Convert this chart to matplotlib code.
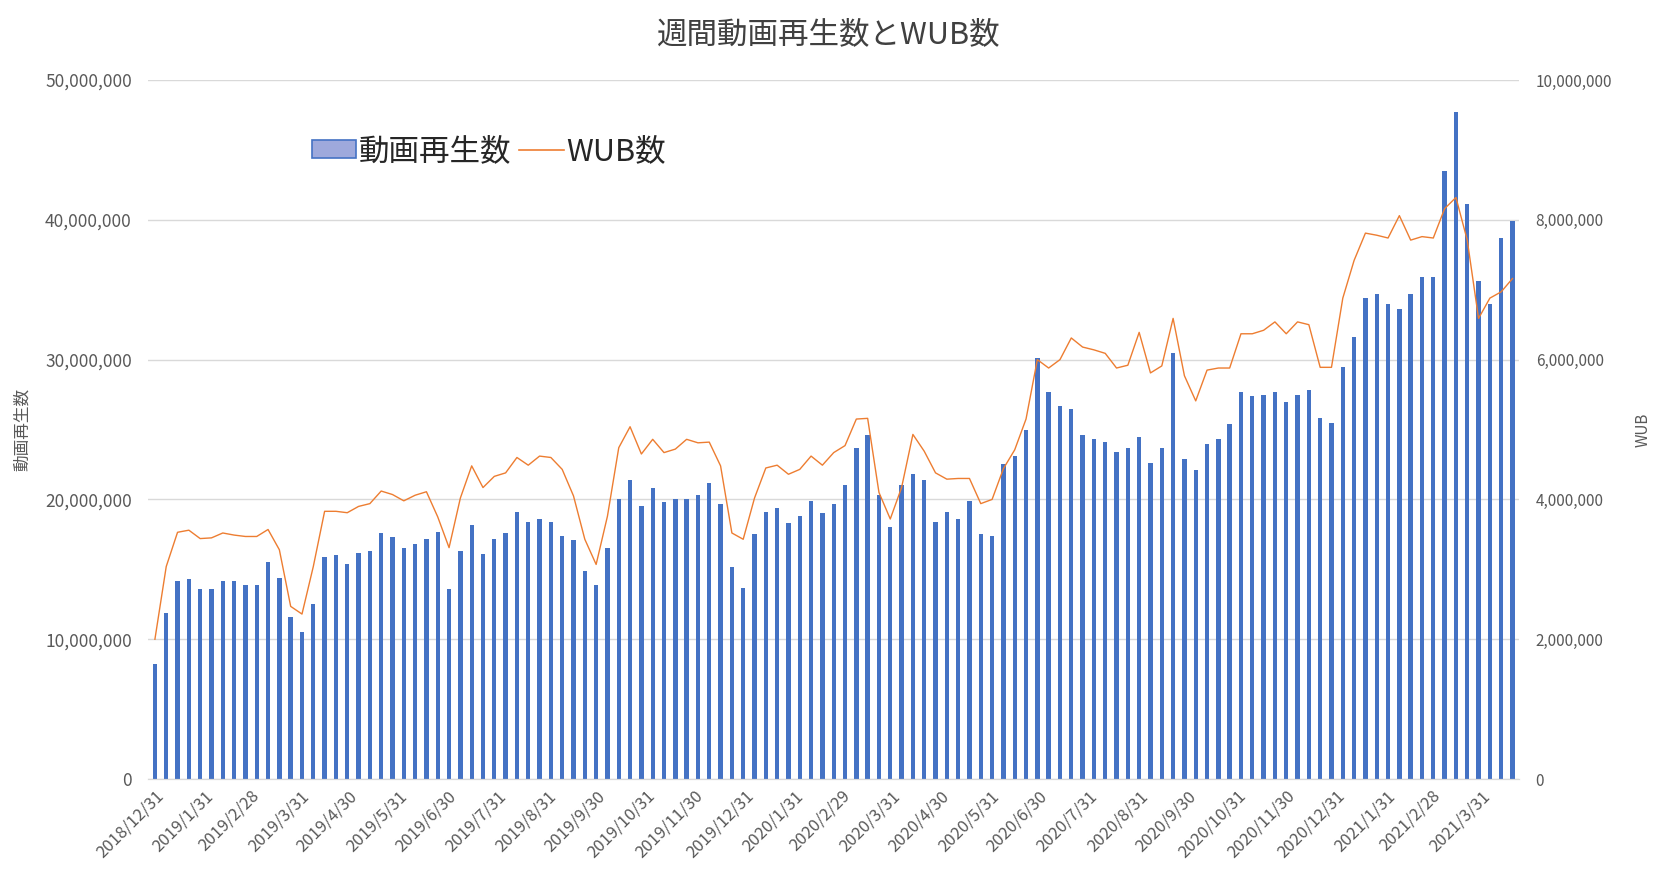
import matplotlib
matplotlib.use('Agg')
import matplotlib.pyplot as plt
import matplotlib.transforms as mtransforms
from matplotlib.patches import Patch
from matplotlib.lines import Line2D
import numpy as np
import pandas as pd

plt.rcParams['font.family'] = ['Noto Sans CJK JP', 'DejaVu Sans']

# 週次データ (2018/12/31 から毎週月曜)
weeks = pd.date_range('2018-12-31', periods=121, freq='7D')

# 動画再生数 (百万)
plays_m = [
    8.2, 11.9, 14.2, 14.3, 13.6, 13.6, 14.2, 14.2, 13.9, 13.9,
    15.5, 14.4, 11.6, 10.5, 12.5, 15.9, 16.0, 15.4, 16.2, 16.3,
    17.6, 17.3, 16.5, 16.8, 17.2, 17.7, 13.6, 16.3, 18.2, 16.1,
    17.2, 17.6, 19.1, 18.4, 18.6, 18.4, 17.4, 17.1, 14.9, 13.9,
    16.5, 20.0, 21.4, 19.5, 20.8, 19.8, 20.0, 20.0, 20.3, 21.2,
    19.7, 15.2, 13.7, 17.5, 19.1, 19.4, 18.3, 18.8, 19.9, 19.0,
    19.7, 21.0, 23.7, 24.6, 20.3, 18.0, 21.0, 21.8, 21.4, 18.4,
    19.1, 18.6, 19.9, 17.5, 17.4, 22.5, 23.1, 25.0, 30.1, 27.7,
    26.7, 26.5, 24.6, 24.3, 24.1, 23.4, 23.7, 24.5, 22.6, 23.7,
    30.5, 22.9, 22.1, 24.0, 24.3, 25.4, 27.7, 27.4, 27.5, 27.7,
    27.0, 27.5, 27.8, 25.8, 25.5, 29.5, 31.6, 34.4, 34.7, 34.0,
    33.6, 34.7, 35.9, 35.9, 43.5, 47.7, 41.1, 35.6, 34.0, 38.7,
    39.9,
]

# WUB数 (百万)
wub_m = [
    2.00, 3.04, 3.53, 3.56, 3.44, 3.45, 3.52, 3.49, 3.47, 3.47,
    3.57, 3.28, 2.47, 2.36, 3.04, 3.83, 3.83, 3.81, 3.90, 3.94,
    4.12, 4.07, 3.98, 4.06, 4.11, 3.75, 3.31, 4.02, 4.48, 4.17,
    4.33, 4.38, 4.60, 4.49, 4.62, 4.60, 4.43, 4.05, 3.43, 3.07,
    3.76, 4.74, 5.04, 4.65, 4.86, 4.67, 4.72, 4.86, 4.81, 4.82,
    4.48, 3.52, 3.43, 4.02, 4.45, 4.49, 4.36, 4.43, 4.62, 4.49,
    4.67, 4.77, 5.15, 5.16, 4.10, 3.72, 4.17, 4.93, 4.69, 4.38,
    4.29, 4.30, 4.30, 3.94, 4.00, 4.44, 4.71, 5.15, 6.00, 5.88,
    6.00, 6.31, 6.18, 6.14, 6.09, 5.88, 5.92, 6.39, 5.81, 5.91,
    6.59, 5.77, 5.41, 5.85, 5.88, 5.88, 6.37, 6.37, 6.42, 6.54,
    6.37, 6.54, 6.50, 5.89, 5.89, 6.88, 7.42, 7.81, 7.78, 7.74,
    8.06, 7.71, 7.76, 7.74, 8.16, 8.32, 7.71, 6.59, 6.88, 6.97,
    7.16,
]

plays = np.array(plays_m) * 1e6
wub = np.array(wub_m) * 1e6

# 月末の目盛り
month_ends = pd.date_range('2018-12-31', '2021-03-31', freq='ME')
month_labels = [f'{d.year}/{d.month}/{d.day}' for d in month_ends]

bar_color = '#4472C4'
line_color = '#ED7D31'
text_color = '#595959'

fig = plt.figure(figsize=(16.55, 8.71), dpi=100)
ax = fig.add_axes([0.0897, 0.1056, 0.8281, 0.8025])
ax2 = ax.twinx()

ax.bar(weeks, plays, width=2.7, color=bar_color, zorder=2)
ax2.plot(weeks, wub, color=line_color, lw=1.0, zorder=3)

ax.set_ylim(0, 50e6)
ax2.set_ylim(0, 10e6)
ax.set_yticks(np.arange(0, 50e6 + 1, 10e6))
ax2.set_yticks(np.arange(0, 10e6 + 1, 2e6))
ax.yaxis.set_major_formatter(matplotlib.ticker.StrMethodFormatter('{x:,.0f}'))
ax2.yaxis.set_major_formatter(matplotlib.ticker.StrMethodFormatter('{x:,.0f}'))

ax.set_xlim(weeks[0] - pd.Timedelta(days=4), weeks[-1] + pd.Timedelta(days=4))
ax.set_xticks(month_ends)
ax.set_xticklabels(month_labels, rotation=45, ha='right', va='top',
                   rotation_mode='anchor')
# ラベルを少し左下へずらす
shift = mtransforms.ScaledTranslation(-9 / 100, -3 / 100, fig.dpi_scale_trans)
for lab in ax.get_xticklabels():
    lab.set_transform(lab.get_transform() + shift)

ax.grid(axis='y', color='#D9D9D9', lw=1.0)
ax.set_axisbelow(True)
for a in (ax, ax2):
    for s in ('top', 'left', 'right'):
        a.spines[s].set_visible(False)
    a.spines['bottom'].set_color('#D9D9D9')
ax.tick_params(axis='x', length=0, pad=6, labelsize=12, labelcolor=text_color)
ax.tick_params(axis='y', length=0, pad=12, labelsize=12.5, labelcolor=text_color)
ax2.tick_params(axis='y', length=0, pad=12, labelsize=11, labelcolor=text_color)

ax.set_ylabel('動画再生数', fontsize=12, color=text_color, labelpad=10)
ax2.set_ylabel('WUB', fontsize=11, color=text_color, labelpad=16, rotation=90)

fig.suptitle('週間動画再生数とWUB数', x=0.5006, y=0.978, fontsize=22,
             color='#404040')

handles = [Patch(facecolor='#9EA9DC', edgecolor=bar_color, lw=1.2),
           Line2D([], [], color=line_color, lw=1.2)]
ax.legend(handles, ['動画再生数', 'WUB数'], loc='center left',
          bbox_to_anchor=(0.108, 0.898), ncol=2, frameon=False,
          fontsize=22, handlelength=1.45, handleheight=0.5,
          handletextpad=0.1, columnspacing=0.25, borderpad=0,
          labelcolor='#262626')

fig.savefig('out.png', dpi=100)
